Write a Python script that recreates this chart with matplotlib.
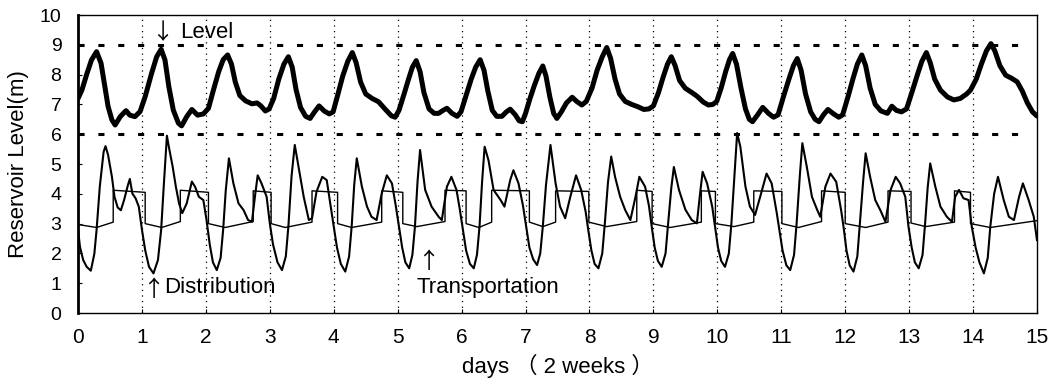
import matplotlib
matplotlib.use("Agg")
import matplotlib.pyplot as plt

plt.rcParams['font.family'] = ['Liberation Sans', 'Noto Sans CJK JP', 'DejaVu Sans']

# reservoir level (thick line), one row per day
level_day = [0.0, 0.06, 0.14, 0.21, 0.29, 0.36, 0.42, 0.47, 0.53, 0.58, 0.66, 0.75, 0.81, 0.89, 0.97,
             1.05, 1.15, 1.23, 1.3, 1.36, 1.42, 1.49, 1.57, 1.62, 1.7, 1.78, 1.87, 1.96,
             2.04, 2.12, 2.2, 2.27, 2.34, 2.4, 2.46, 2.53, 2.62, 2.72, 2.8, 2.86, 2.93, 2.99,
             3.06, 3.14, 3.22, 3.29, 3.35, 3.41, 3.48, 3.56, 3.63, 3.7, 3.77, 3.85, 3.93, 3.99,
             4.06, 4.14, 4.22, 4.29, 4.35, 4.42, 4.5, 4.6, 4.7, 4.8, 4.9, 4.96, 5.02,
             5.1, 5.17, 5.23, 5.29, 5.35, 5.41, 5.49, 5.57, 5.64, 5.71, 5.77, 5.85, 5.93, 5.99,
             6.07, 6.15, 6.22, 6.29, 6.35, 6.41, 6.48, 6.55, 6.63, 6.7, 6.76, 6.84, 6.9, 6.95, 7.0,
             7.07, 7.14, 7.21, 7.27, 7.32, 7.38, 7.44, 7.49, 7.56, 7.64, 7.73, 7.8, 7.88, 7.95,
             8.04, 8.12, 8.2, 8.27, 8.33, 8.4, 8.47, 8.56, 8.66, 8.76, 8.85, 8.93, 9.0,
             9.08, 9.15, 9.22, 9.28, 9.34, 9.41, 9.5, 9.6, 9.68, 9.78, 9.86, 9.93, 9.99,
             10.06, 10.13, 10.19, 10.24, 10.3, 10.37, 10.44, 10.5, 10.55, 10.63, 10.71, 10.8, 10.88, 10.95,
             11.04, 11.12, 11.19, 11.25, 11.31, 11.38, 11.46, 11.53, 11.59, 11.66, 11.73, 11.82, 11.9, 11.96,
             12.05, 12.12, 12.19, 12.26, 12.32, 12.39, 12.47, 12.56, 12.66, 12.73, 12.8, 12.88, 12.96,
             13.05, 13.13, 13.2, 13.27, 13.33, 13.4, 13.49, 13.6, 13.7, 13.8, 13.9, 13.96,
             14.05, 14.13, 14.21, 14.28, 14.34, 14.42, 14.51, 14.6, 14.69, 14.77, 14.85, 14.93, 15.0]
level_m = [7.2, 7.48, 8.04, 8.49, 8.77, 8.38, 7.6, 6.93, 6.48, 6.31, 6.59, 6.79, 6.64, 6.59, 6.76,
           7.26, 8.04, 8.6, 8.85, 8.49, 7.6, 6.81, 6.37, 6.28, 6.59, 6.83, 6.64, 6.68,
           6.87, 7.5, 8.1, 8.5, 8.66, 8.35, 7.75, 7.3, 7.12, 7.02, 7.05, 6.95, 6.78, 6.85,
           7.2, 7.85, 8.35, 8.6, 8.25, 7.5, 6.9, 6.6, 6.53, 6.75, 6.95, 6.78, 6.68, 6.75,
           7.3, 7.95, 8.45, 8.74, 8.4, 7.75, 7.35, 7.2, 7.09, 6.85, 6.62, 6.57, 6.8,
           7.35, 7.85, 8.25, 8.47, 8.1, 7.4, 6.85, 6.7, 6.7, 6.8, 6.87, 6.7, 6.6, 6.75,
           7.3, 7.85, 8.25, 8.5, 8.15, 7.45, 6.8, 6.6, 6.6, 6.75, 6.84, 6.65, 6.45, 6.42, 6.7,
           7.2, 7.65, 8.05, 8.29, 7.95, 7.25, 6.7, 6.53, 6.75, 7.05, 7.24, 7.1, 6.98, 7.1,
           7.55, 8.15, 8.6, 8.91, 8.55, 7.85, 7.35, 7.1, 7.0, 6.92, 6.83, 6.85, 6.95,
           7.4, 7.9, 8.35, 8.6, 8.3, 7.8, 7.54, 7.4, 7.28, 7.08, 6.98, 7.0, 7.1,
           7.55, 8.1, 8.5, 8.71, 8.35, 7.55, 6.85, 6.5, 6.42, 6.65, 6.9, 6.7, 6.57, 6.65,
           7.3, 7.85, 8.3, 8.54, 8.15, 7.35, 6.75, 6.5, 6.42, 6.65, 6.83, 6.68, 6.57, 6.65,
           7.3, 7.85, 8.35, 8.66, 8.3, 7.55, 7.0, 6.78, 6.7, 6.94, 6.8, 6.75, 6.85,
           7.45, 8.0, 8.45, 8.74, 8.4, 7.85, 7.48, 7.25, 7.15, 7.2, 7.35, 7.48,
           7.85, 8.35, 8.8, 9.04, 8.8, 8.3, 7.98, 7.88, 7.76, 7.45, 7.05, 6.75, 6.61]

# distribution reservoir, one row per day
dist_day = [0.0, 0.03, 0.08, 0.135, 0.2, 0.255, 0.29, 0.34, 0.4, 0.43, 0.47, 0.53, 0.57, 0.62, 0.67, 0.72, 0.78, 0.81, 0.85, 0.9, 0.95,
            1.0, 1.05, 1.11, 1.18, 1.25, 1.3, 1.34, 1.39, 1.42, 1.48, 1.53, 1.58, 1.63, 1.7, 1.78, 1.83, 1.89, 1.96,
            2.01, 2.06, 2.11, 2.17, 2.23, 2.27, 2.31, 2.36, 2.43, 2.51, 2.59, 2.66, 2.72, 2.77, 2.81, 2.87, 2.95,
            3.0, 3.05, 3.12, 3.19, 3.25, 3.29, 3.34, 3.39, 3.45, 3.53, 3.61, 3.66, 3.73, 3.82, 3.89, 3.95,
            4.0, 4.05, 4.11, 4.18, 4.24, 4.28, 4.32, 4.36, 4.44, 4.52, 4.59, 4.67, 4.75, 4.83, 4.91, 4.97,
            5.02, 5.07, 5.12, 5.18, 5.23, 5.27, 5.31, 5.35, 5.43, 5.53, 5.64, 5.69, 5.77, 5.84, 5.92, 5.97,
            6.02, 6.07, 6.13, 6.19, 6.24, 6.28, 6.32, 6.36, 6.42, 6.5, 6.61, 6.67, 6.76, 6.81, 6.89, 6.96,
            7.01, 7.06, 7.12, 7.18, 7.23, 7.27, 7.32, 7.39, 7.47, 7.54, 7.62, 7.7, 7.79, 7.87, 7.94,
            7.98, 8.03, 8.08, 8.14, 8.2, 8.24, 8.29, 8.34, 8.40, 8.48, 8.56, 8.64, 8.72, 8.78, 8.87, 8.93,
            8.98, 9.02, 9.07, 9.13, 9.19, 9.23, 9.28, 9.32, 9.4, 9.5, 9.6, 9.68, 9.73, 9.77, 9.84, 9.92,
            9.97, 10.01, 10.06, 10.12, 10.18, 10.22, 10.27, 10.31, 10.36, 10.44, 10.51, 10.59, 10.67, 10.77, 10.85, 10.93,
            10.97, 11.02, 11.08, 11.14, 11.2, 11.24, 11.29, 11.33, 11.4, 11.48, 11.56, 11.61, 11.69, 11.77, 11.86, 11.94,
            11.98, 12.02, 12.07, 12.13, 12.19, 12.23, 12.28, 12.32, 12.39, 12.47, 12.55, 12.63, 12.71, 12.79, 12.86, 12.94,
            12.99, 13.04, 13.09, 13.15, 13.21, 13.25, 13.29, 13.33, 13.41, 13.49, 13.59, 13.67, 13.72, 13.78, 13.85, 13.93,
            13.98, 14.04, 14.1, 14.17, 14.23, 14.27, 14.33, 14.39, 14.48, 14.56, 14.64, 14.72, 14.78, 14.87, 14.95, 15.0]
dist_m = [2.8, 2.22, 1.78, 1.55, 1.42, 1.99, 2.79, 4.24, 5.41, 5.6, 5.3, 4.57, 3.9, 3.54, 3.45, 3.79, 4.29, 4.5, 4.01, 3.85, 3.57,
          2.79, 2.11, 1.55, 1.33, 1.78, 2.79, 4.24, 5.95, 5.58, 4.91, 4.24, 3.68, 3.35, 3.68, 4.41, 4.24, 3.9, 3.79,
          3.12, 2.3, 1.7, 1.44, 1.85, 2.8, 4.1, 5.19, 4.35, 3.68, 3.45, 3.12, 3.06, 3.96, 4.62, 4.35, 3.9,
          3.0, 2.3, 1.7, 1.44, 1.9, 2.9, 4.6, 5.64, 4.9, 3.9, 3.12, 3.18, 4.07, 4.57, 4.46, 3.6,
          2.9, 2.2, 1.65, 1.39, 1.9, 2.9, 4.3, 5.19, 4.24, 3.57, 3.23, 3.12, 4.01, 4.62, 4.35, 3.6,
          2.9, 2.2, 1.7, 1.5, 1.95, 2.9, 4.4, 5.47, 4.13, 3.57, 3.23, 3.12, 4.24, 4.57, 4.13, 3.5,
          2.8, 2.1, 1.65, 1.5, 1.95, 2.9, 4.4, 5.58, 5.13, 4.13, 3.79, 3.57, 4.46, 4.79, 4.35, 3.6,
          2.9, 2.2, 1.8, 1.61, 2.0, 2.9, 4.3, 5.64, 4.35, 3.57, 3.18, 3.9, 4.62, 4.13, 3.4,
          2.8, 2.1, 1.65, 1.5, 2.0, 3.0, 4.4, 5.25, 4.57, 3.9, 3.45, 3.12, 3.9, 4.57, 4.24, 3.6,
          2.8, 2.2, 1.75, 1.55, 2.0, 3.0, 4.2, 4.9, 4.13, 3.47, 3.12, 3.01, 4.01, 4.74, 4.35, 3.57,
          2.8, 2.2, 1.75, 1.55, 2.0, 3.0, 4.7, 6.04, 5.58, 4.24, 3.57, 3.29, 3.9, 4.68, 4.35, 3.35,
          2.8, 2.1, 1.6, 1.44, 1.95, 3.0, 4.6, 5.7, 4.9, 3.9, 3.47, 3.23, 4.24, 4.68, 4.4, 3.4,
          2.8, 2.1, 1.6, 1.39, 1.9, 3.0, 4.4, 5.36, 4.57, 3.79, 3.45, 3.06, 4.13, 4.57, 4.35, 3.9,
          2.9, 2.2, 1.7, 1.5, 1.95, 3.0, 4.2, 5.02, 4.24, 3.57, 3.23, 3.06, 3.9, 4.13, 3.85, 3.79,
          2.9, 2.2, 1.7, 1.33, 1.85, 2.9, 4.0, 4.57, 3.79, 3.23, 3.12, 3.9, 4.35, 3.79, 3.23, 2.45]

# transportation reservoir (step-like), one row per day
trans_day = [0.0, 0.29, 0.55, 0.55,
             1.05, 1.05, 1.31, 1.6, 1.6,
             2.04, 2.04, 2.3, 2.74, 2.74,
             3.02, 3.02, 3.24, 3.66, 3.66,
             4.06, 4.06, 4.28, 4.75, 4.75,
             5.08, 5.08, 5.3, 5.74, 5.74,
             6.07, 6.07, 6.27, 6.47, 6.47,
             7.06, 7.06, 7.27, 7.47, 7.47,
             7.99, 7.99, 8.27, 8.74, 8.74,
             8.98, 8.98, 9.26, 9.75, 9.75,
             9.97, 9.97, 10.26, 10.57, 10.57,
             11.01, 11.01, 11.27, 11.63, 11.63,
             12.0, 12.0, 12.32, 12.67, 12.67,
             13.03, 13.03, 13.26, 13.71, 13.71,
             13.96, 13.96, 14.27, 15.0]
trans_m = [2.97, 2.87, 3.05, 4.12,
           4.05, 3.0, 2.87, 3.07, 4.12,
           4.05, 3.0, 2.87, 3.07, 4.1,
           4.05, 3.0, 2.87, 3.05, 4.1,
           4.05, 3.0, 2.87, 3.05, 4.1,
           4.05, 3.0, 2.9, 3.07, 4.12,
           4.1, 3.0, 2.87, 3.05, 4.12,
           4.1, 3.05, 2.9, 3.05, 4.1,
           4.08, 3.05, 2.9, 3.07, 4.12,
           4.08, 3.0, 2.87, 3.05, 4.1,
           4.08, 3.0, 2.9, 3.05, 4.1,
           4.08, 3.0, 2.87, 3.07, 4.1,
           4.05, 3.0, 2.87, 3.05, 4.1,
           4.08, 3.02, 2.9, 3.05, 4.1,
           4.05, 3.0, 2.87, 3.1]

limits_m = [9, 6]
day_ticks = list(range(0, 16))
level_ticks = list(range(0, 11))

fig = plt.figure(figsize=(10.59, 3.9), dpi=100)
ax = fig.add_axes([0.0737, 0.1974, 0.9055, 0.7641])

for d in day_ticks[1:-1]:
    ax.axvline(d, color='black', linestyle=(0, (1, 3.5)), linewidth=0.9)
for lim in limits_m:
    ax.axhline(lim, color='black', linestyle=(0, (2, 4.5)), linewidth=2.2, xmax=0.985)

ax.plot(trans_day, trans_m, color='black', linewidth=1.0)
ax.plot(dist_day, dist_m, color='black', linewidth=1.5)
ax.plot(level_day, level_m, color='black', linewidth=3.6,
        solid_joinstyle='round', solid_capstyle='round')

# labels with CJK style arrows
arrow_font = ['Noto Sans CJK JP', 'DejaVu Sans']
ax.text(1.31, 9.42, "↓", fontsize=16, ha='center', va='center', family=arrow_font)
ax.text(1.6, 9.4, "Level", fontsize=16, ha='left', va='center')
ax.text(1.17, 0.8, "↑", fontsize=16, ha='center', va='center', family=arrow_font)
ax.text(1.35, 0.84, "Distribution", fontsize=16, ha='left', va='center')
ax.text(5.48, 1.72, "↑", fontsize=16, ha='center', va='center', family=arrow_font)
ax.text(5.3, 0.86, "Transportation", fontsize=16, ha='left', va='center')

ax.set_xlim(0, 15)
ax.set_ylim(0, 10)
ax.set_xticks(day_ticks)
ax.set_yticks(level_ticks)
ax.tick_params(direction='in', length=3)
ax.tick_params(axis='x', labelsize=15, pad=11)
ax.tick_params(axis='y', labelsize=14, pad=12)
ax.spines['left'].set_linewidth(2.0)
for s in ['top', 'right', 'bottom']:
    ax.spines[s].set_linewidth(1.0)

ax.set_xlabel("days （ 2 weeks ）", fontsize=16, labelpad=5)
ax.set_ylabel("Reservoir Level(m)", fontsize=16, labelpad=8)

fig.savefig("out.png", dpi=100)
